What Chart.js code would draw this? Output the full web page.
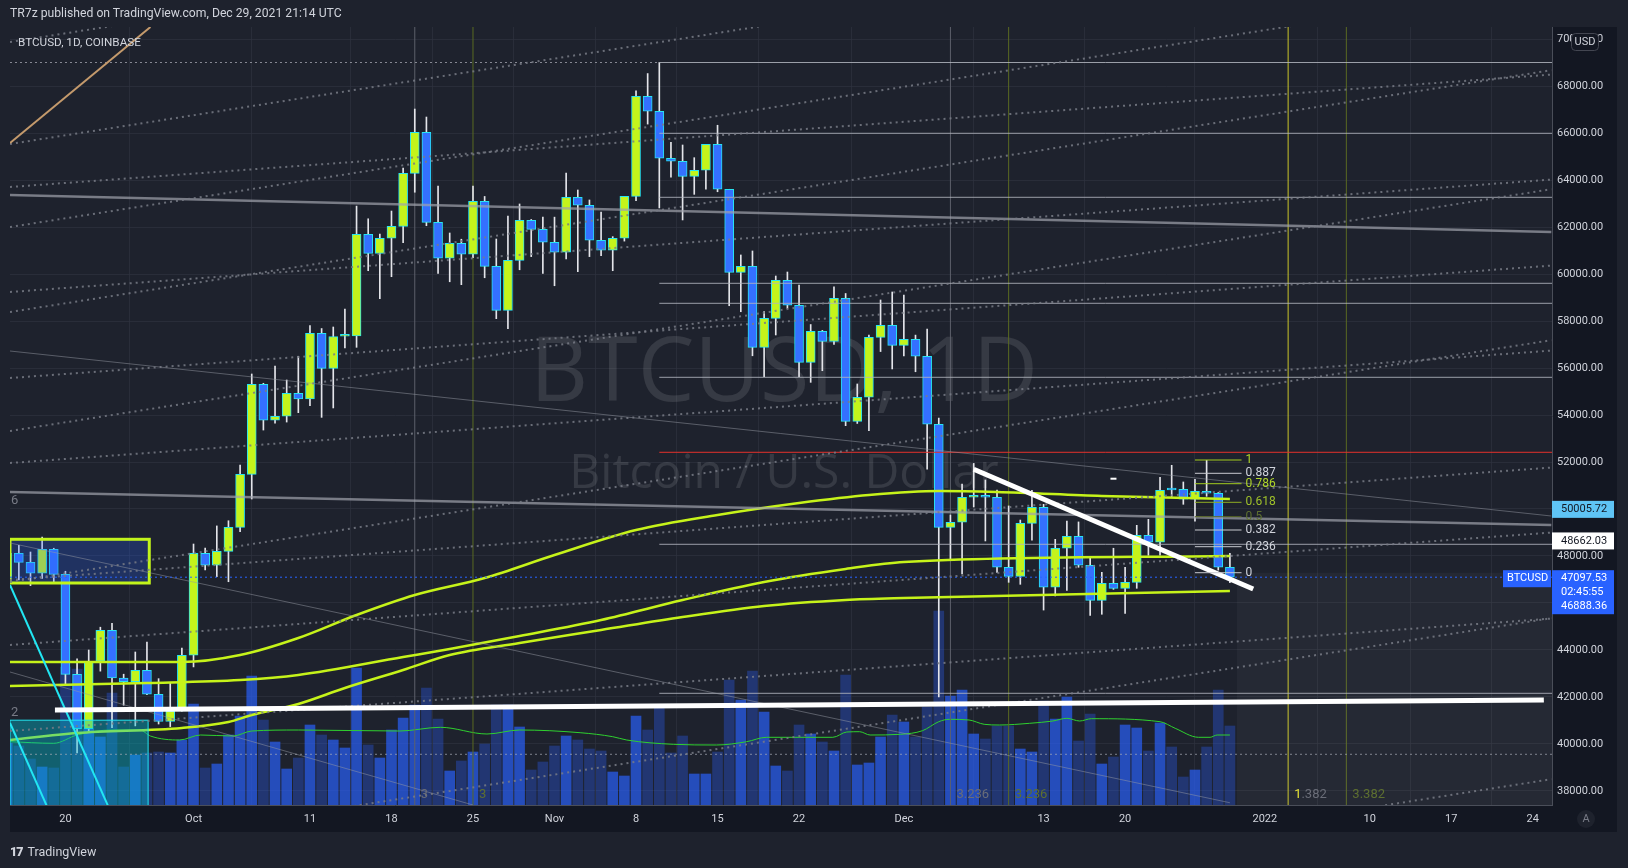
<!DOCTYPE html>
<html>
<head>
<meta charset="utf-8">
<script src="https://cdn.jsdelivr.net/npm/chart.js@4.4.1/dist/chart.umd.min.js"></script>
<style>
  html, body { margin: 0; padding: 0; background: #1e222d; width: 1628px; height: 868px; overflow: hidden; }
  #c { position: absolute; left: 0; top: 0; }
  .hdr { position: absolute; left: 10px; top: 6px; font: 12.2px Roboto, sans-serif; color: #d1d4dc; }
  .sym { position: absolute; left: 18px; top: 35px; font: 11.7px Roboto, sans-serif; color: #d1d4dc; }
  .foot { position: absolute; left: 10px; top: 844px; font: 12.5px Roboto, sans-serif; color: #d1d4dc; }
  .foot b { font-weight: 900; letter-spacing: -1px; margin-right: 5px; }
</style>
</head>
<body>
<canvas id="c" width="1628" height="868"></canvas>
<div class="hdr">TR7z published on TradingView.com, Dec 29, 2021 21:14 UTC</div>
<div class="sym">BTCUSD, 1D, COINBASE</div>
<div class="foot"><b>17</b>TradingView</div>
<script>
// daily candles from 2021-09-15 to 2021-12-29 (day 0 = Sep 20)
const firstDay = -5;
const openP = [47050, 48115, 47730, 47265, 48285, 47220, 42965, 40650, 43520, 44840, 42810, 42650, 43135, 42115, 40965, 41405,
  43775, 48115, 47605, 48200, 49220, 51475, 55305, 53775, 53945, 54925, 54680, 57475, 55985, 57350, 57365, 61690, 60880, 61520, 62030, 64285, 66030, 62200, 60670, 61305, 60840, 63095, 60325, 58455, 60580, 62285, 61900,
  61350, 60925, 63265, 62925, 61435, 61010, 61520, 63305, 67560, 66925, 64925, 64800, 64155, 64415, 65520, 63605, 60070, 60325, 56880, 58115, 59730, 58670, 56240, 57560, 57135, 58965, 53730, 54755, 57305, 57815,
  56965, 57220, 56500, 53605, 49220, 49435, 50500, 50550, 50500, 47520, 47135, 49390, 50070, 46670, 48330, 48840, 47605, 46115, 46840, 46625, 46880, 48880, 48585, 50830, 50840, 50415, 50755, 50670, 47520];
const highP = [48450, 48455, 48170, 48800, 48330, 47350, 43620, 44000, 44970, 45140, 42970, 43915, 44340, 42780, 42600, 44085,
  48510, 48340, 49280, 49500, 51870, 55745, 55350, 56085, 55490, 56500, 57800, 57680, 57745, 58510, 62890, 62350, 61700, 62680, 64510, 67020, 66680, 63745, 61745, 61480, 63745, 63300, 61490, 62470, 62980, 62320, 62425,
  62420, 64300, 63575, 63150, 62640, 61590, 63300, 67800, 68530, 69000, 65600, 65490, 64950, 65520, 66330, 63605, 60810, 60980, 58400, 59915, 60085, 59530, 57850, 57600, 59450, 59170, 55320, 57400, 58895, 59235,
  59105, 57400, 57660, 53870, 49745, 51065, 51940, 51235, 50800, 50130, 49530, 50795, 50200, 48710, 49490, 49450, 47945, 47305, 48330, 47520, 49305, 49560, 51350, 51860, 51150, 51265, 52070, 50700, 48115];
const lowP = [46700, 46980, 46740, 47050, 46850, 42500, 39620, 40550, 43100, 40700, 41650, 40770, 42100, 40850, 40740, 41400,
  43280, 47405, 47120, 46905, 49030, 50425, 53360, 53650, 53700, 54100, 54400, 53900, 54300, 56850, 56880, 60140, 58950, 59885, 61330, 63480, 62055, 60030, 59670, 59545, 60700, 59840, 58100, 57670, 60180, 60740, 60030,
  59500, 60640, 60100, 60740, 60780, 60140, 61400, 63120, 66380, 62810, 64120, 62300, 63390, 63615, 63500, 58650, 58395, 56520, 55630, 57405, 58540, 55630, 55390, 55885, 57000, 53545, 53640, 53330, 56700, 55960,
  56510, 55840, 51700, 42000, 47830, 47235, 50085, 48640, 47300, 46880, 46795, 48670, 45700, 46300, 46540, 47520, 45475, 45520, 46580, 45560, 46625, 48030, 48040, 50500, 50200, 49480, 50540, 47400, 46865];
const closeP = [48115, 47730, 47265, 48285, 47220, 42965, 40650, 43520, 44840, 42810, 42650, 43135, 42115, 40965, 41405, 43775,
  48115, 47605, 48200, 49220, 51475, 55305, 53775, 53945, 54925, 54680, 57475, 55985, 57335, 57365, 61690, 60880, 61520, 62030, 64285, 66030, 62200, 60670, 61305, 60840, 63095, 60325, 58455, 60580, 62285, 61900, 61350,
  60925, 63265, 62925, 61435, 61010, 61520, 63305, 67560, 66925, 64925, 64800, 64155, 64415, 65520, 63605, 60070, 60325, 56880, 58115, 59730, 58670, 56240, 57560, 57135, 58965, 53730, 54755, 57305, 57815, 56965,
  57220, 56500, 53605, 49220, 49435, 50500, 50550, 50500, 47520, 47135, 49390, 50070, 46670, 48330, 48840, 47605, 46115, 46840, 46625, 46880, 48880, 48585, 50795, 50810, 50415, 50755, 50670, 47520, 47100];
const volume = [6200, 5900, 4600, 3800, 3700, 13800, 13600, 7600, 6800, 11200, 3800, 5000, 5200, 5300, 5200, 6500,
  10100, 3700, 4100, 7000, 8900, 12900, 8500, 6300, 3600, 4700, 8000, 7000, 6500, 5700, 13700, 6000, 4700, 7500, 8700, 10000, 11700, 8600, 3400, 4400, 5300, 6100, 10000, 10000, 7800, 3500, 4300,
  5900, 6900, 6500, 5600, 5400, 3300, 2900, 8900, 7500, 10000, 5200, 6900, 3100, 3100, 5300, 12500, 10500, 13400, 9300, 3900, 3400, 8000, 7100, 6300, 5400, 13000, 4000, 4200, 6800, 9000,
  8300, 6800, 9800, 19400, 10900, 11500, 7100, 6600, 7900, 7900, 5600, 5300, 10400, 8600, 10800, 6400, 9100, 4100, 4800, 8000, 7700, 5400, 8200, 5800, 2800, 3500, 5800, 11500, 7900];

// moving averages (day, price)
const maTopDays = [-4.8, 10, 15, 20, 25, 30, 36, 42, 49, 56, 63, 69, 75, 80, 89, 100];
const maTopVals = [43490, 43490, 43787, 44511, 45489, 46340, 47064, 48043, 49106, 49745, 50255, 50596, 50766, 50723, 50553, 50426];
const maMidDays = [-4.8, 7, 15, 20, 29, 33, 39, 46, 53, 60, 67, 72, 100];
const maMidVals = [42468, 42596, 42723, 42936, 43702, 44043, 44596, 45277, 46128, 46894, 47447, 47745, 48000];
const maLowDays = [-4.8, 1, 10, 14, 16, 20, 24, 29, 33, 39, 46, 53, 60, 67, 72, 100];
const maLowVals = [40170, 40468, 40681, 40936, 41234, 41702, 42383, 43149, 43787, 44298, 44851, 45404, 45872, 46128, 46213, 46511];
const volMaDays = [-4.8, -1, 1, 4, 6.4, 7.3, 9.8, 11.6, 14.4, 16, 20, 28.7, 32.2, 36.2, 39, 44.2, 47, 48.2, 52.2, 55.9, 58.5, 60.2, 65.9, 67.1, 68.2, 69.1, 71.7, 73.6, 75, 75.9, 77.6, 78.9, 80.2, 82.8, 84.8, 86, 87.1, 88.1, 94, 95.3, 97.3, 98.3, 98.9, 100];
const volMaVals = [6330, 6170, 7000, 7500, 7500, 6900, 6500, 7000, 6900, 7400, 7500, 7400, 7770, 7100, 7500, 7230, 6830, 6500, 6070, 6000, 6330, 6770, 6770, 7300, 7330, 7000, 7070, 7430, 8330, 8570, 8500, 8070, 8000, 8170, 8400, 8670, 8400, 8630, 8330, 7670, 6770, 6770, 7000, 7000];

// axis ticks
const timeTickDays = [0, 11, 21, 28, 35, 42, 49, 56, 63, 72, 84, 91, 103, 112, 119, 126];
const timeTickLabels = ['20', 'Oct', '11', '18', '25', 'Nov', '8', '15', '22', 'Dec', '13', '20', '2022', '10', '17', '24'];
const priceTicks = [38000, 40000, 42000, 44000, 46000, 48000, 50000, 52000, 54000, 56000, 58000, 60000, 62000, 64000, 66000, 68000, 70000];

// drawings, in (day, price)
const dottedLines = [
  [-4.76, 69872, 127.6, 80161], [-4.76, 65532, 127.6, 75821], [-4.76, 62000, 127.6, 72289], [-4.76, 58383, 127.6, 68672],
  [-4.76, 53319, 127.6, 63608], [-4.76, 46894, 127.6, 57183], [-4.76, 35064, 127.6, 45353], [-4.76, 28213, 127.6, 38502],
  [-4.76, 63702, 127.6, 68486], [-4.76, 59234, 127.6, 64018], [-4.76, 55574, 127.6, 60358], [-4.76, 51957, 127.6, 56741],
  [-4.76, 46979, 127.6, 51763], [-4.76, 44213, 127.6, 48997], [-4.76, 40553, 127.6, 45337]
];
const thickGreyLines = [[-4.76, 63362, 127.6, 61787], [-4.76, 50723, 127.6, 49319]];
const thinGreyLines = [[-4.76, 56723, 127.6, 49702], [-4.76, 48553, 100, 37500], [-4.76, 43064, 35, 37404]];
const cyanLines = [[-4.76, 46766, 3.66, 37362], [-4.76, 40894, -1.6, 37362]];
const tanLines = [[-4.76, 65574, 7.3, 70510]];
const whiteLines = [[-0.9, 41447, 126.96, 41872], [78.0, 51689, 102.0, 46596]];
const levelStart = 51;
const greyLevels = [69000, 65987, 63264, 59604, 58753, 55604, 48498, 42157];
const redLevels = [52413];
const cycleDays = [30, 35, 76, 81, 105, 110];
const cycleLabels = ['3', '3', '3.236', '3.236', '1.382', '3.382'];
const cycleKinds = ['grey', 'olive', 'grey', 'olive', 'yellow', 'olive'];
const fibDays = [97, 101];
const fibPrices = [52085, 51519, 51077, 50285, 49672, 49106, 48396, 47289];
const fibLabels = ['1', '0.887', '0.786', '0.618', '0.5', '0.382', '0.236', '0'];
const fibKinds = ['lime', 'white', 'lime', 'lime2', 'olive', 'white', 'white', 'white'];
const boxes = [
  { d1: -4.76, d2: 7.2, p1: 48711, p2: 46851, fill: 'rgba(41,98,255,0.25)', stroke: '#c2f41b', lw: 3 },
  { d1: -4.76, d2: 7.1, p1: 41013, p2: 37300, fill: 'rgba(0,190,210,0.40)', stroke: '#22e6f2', lw: 1 },
  { d1: 100.6, d2: 127.66, p1: 47289, p2: 37300, fill: 'rgba(255,255,255,0.035)', stroke: null, lw: 0 }
];
const lastPrice = 47097.53;
const gridDotted = 39562;

const X0 = -4.76, X1 = 127.66, Y0 = 37404, Y1 = 70511;
const UP = '#c4f41b', DOWN = '#3470ff', EDGE = '#27e3f2';
const KIND = { grey: '#5d606b', olive: '#5a6a22', yellow: '#c9c42a', lime: '#a3cc1f', lime2: '#8fae22', white: '#c8cad0' };
const KIND_TXT = { grey: '#6a6d78', olive: '#5e7030', yellow: '#d8d52a', lime: '#b0d628', lime2: '#9fc12a', white: '#d1d4dc' };

const days = openP.map((_, i) => i + firstDay);
const isUp = i => closeP[i] >= openP[i];

function seg(l, color, width, extra) {
  return Object.assign({
    type: 'line', data: [{ x: l[0], y: l[1] }, { x: l[2], y: l[3] }],
    borderColor: color, borderWidth: width, pointRadius: 0, fill: false, tension: 0, order: 14
  }, extra || {});
}
function curve(ds, vs, color, width, extra) {
  return Object.assign({
    type: 'line', data: ds.map((d, i) => ({ x: d, y: vs[i] })),
    borderColor: color, borderWidth: width, pointRadius: 0, fill: false,
    cubicInterpolationMode: 'monotone', order: 20
  }, extra || {});
}

const datasets = [];
datasets.push({
  type: 'bar', yAxisID: 'yVol', order: 30, grouped: false, barThickness: 10,
  data: days.map((d, i) => ({ x: d, y: volume[i] })),
  backgroundColor: ctx => isUp(ctx.dataIndex) ? 'rgba(41,98,255,0.68)' : 'rgba(41,98,255,0.33)'
});
datasets.push(curve(volMaDays, volMaVals, '#2fd12f', 1, { yAxisID: 'yVol', order: 29 }));
cycleDays.forEach((d, i) => datasets.push(seg([d, Y0 - 1000, d, Y1 + 1000], KIND[cycleKinds[i]], 1, { order: 28 })));
datasets.push({
  type: 'bar', order: 27, grouped: false, barThickness: 1,
  data: days.map((d, i) => ({ x: d, y: [lowP[i], highP[i]] })),
  backgroundColor: '#e4e5ea'
});
datasets.push({
  type: 'bar', order: 26, grouped: false, barThickness: 9, minBarLength: 2,
  data: days.map((d, i) => ({ x: d, y: [openP[i], closeP[i]] })),
  backgroundColor: ctx => isUp(ctx.dataIndex) ? UP : DOWN,
  borderColor: EDGE, borderWidth: 1, borderSkipped: false
});
datasets.push(curve(maTopDays, maTopVals, '#c6f31a', 2.5, { boxesBefore: true }));
datasets.push(curve(maMidDays, maMidVals, '#c6f31a', 2.5));
datasets.push(curve(maLowDays, maLowVals, '#c6f31a', 2.5));
dottedLines.forEach(l => datasets.push(seg(l, 'rgba(120,123,134,0.85)', 2, { borderDash: [2, 4] })));
datasets.push(seg([X0, 69000, levelStart, 69000], 'rgba(160,163,172,0.8)', 1, { borderDash: [2, 3] }));
datasets.push(seg([X0, gridDotted, X1, gridDotted], 'rgba(170,173,182,0.7)', 1, { borderDash: [2, 3] }));
datasets.push(seg([X0, lastPrice, X1, lastPrice], '#2962ff', 1, { borderDash: [2, 3] }));
thickGreyLines.forEach(l => datasets.push(seg(l, 'rgba(160,163,172,0.7)', 2.5)));
thinGreyLines.forEach(l => datasets.push(seg(l, 'rgba(150,153,163,0.5)', 1)));
greyLevels.forEach(p => datasets.push(seg([levelStart, p, X1, p], 'rgba(178,181,190,0.85)', 1)));
redLevels.forEach(p => datasets.push(seg([levelStart, p, X1, p], '#e5312c', 1)));
cyanLines.forEach(l => datasets.push(seg(l, '#22e6f2', 2, { order: 12 })));
tanLines.forEach(l => datasets.push(seg(l, '#c49a6c', 2, { order: 12 })));
whiteLines.forEach(l => datasets.push(seg(l, '#ffffff', 5, { order: 10 })));
fibPrices.forEach((p, i) => datasets.push(seg([fibDays[0], p, fibDays[1], p], KIND[fibKinds[i]], 1, { order: 9 })));

function drawBoxes(chart) {
  const { ctx, chartArea: a, scales: { x, y } } = chart;
  ctx.save();
  ctx.beginPath(); ctx.rect(a.left, a.top, a.right - a.left, a.bottom - a.top); ctx.clip();
  boxes.forEach(b => {
    const l = x.getPixelForValue(b.d1), r = x.getPixelForValue(b.d2);
    const t = y.getPixelForValue(b.p1), btm = y.getPixelForValue(b.p2);
    ctx.fillStyle = b.fill; ctx.fillRect(l, t, r - l, btm - t);
    if (b.stroke) { ctx.strokeStyle = b.stroke; ctx.lineWidth = b.lw; ctx.strokeRect(l, t, r - l, btm - t); }
  });
  ctx.restore();
}

const drawings = {
  id: 'drawings',
  beforeDraw(chart) {
    const { ctx, chartArea: a } = chart;
    ctx.save();
    ctx.fillStyle = '#1e222d';
    ctx.fillRect(a.left, a.top, a.right - a.left, a.bottom - a.top);
    ctx.fillStyle = '#131722';
    ctx.fillRect(a.right, a.top, 65, a.bottom - a.top + 27);
    ctx.fillRect(a.left, a.bottom, a.right - a.left, 27);
    ctx.restore();
  },
  beforeDatasetsDraw(chart) {
    const { ctx, chartArea: a } = chart;
    const cx = (a.left + a.right) / 2 + 3;
    ctx.save();
    ctx.fillStyle = 'rgba(255,255,255,0.11)';
    ctx.textAlign = 'center'; ctx.textBaseline = 'middle';
    ctx.font = '90px "Open Sans", Roboto, sans-serif';
    ctx.fillText('BTCUSD, 1D', cx, 375);
    ctx.font = '48px "Open Sans", Roboto, sans-serif';
    ctx.fillText('Bitcoin / U.S. Dollar', cx, 474);
    ctx.restore();
  },
  beforeDatasetDraw(chart, args) {
    if (chart.data.datasets[args.index].boxesBefore) drawBoxes(chart);
  },
  afterDatasetsDraw(chart) {
    const { ctx, chartArea: a, scales: { x, y } } = chart;
    ctx.save();
    ctx.beginPath(); ctx.rect(a.left, a.top, a.right - a.left, a.bottom - a.top); ctx.clip();
    ctx.textBaseline = 'middle'; ctx.textAlign = 'left';
    ctx.font = '12px Roboto, sans-serif';
    fibPrices.forEach((p, i) => {
      ctx.fillStyle = KIND_TXT[fibKinds[i]];
      ctx.fillText(fibLabels[i], x.getPixelForValue(fibDays[1]) + 4, y.getPixelForValue(p));
    });
    ctx.font = '13px Roboto, sans-serif';
    cycleDays.forEach((d, i) => {
      const px = x.getPixelForValue(d) + 6;
      ctx.fillStyle = cycleKinds[i] === 'yellow' ? KIND_TXT.grey : KIND_TXT[cycleKinds[i]];
      ctx.fillText(cycleLabels[i], px, 795);
      if (cycleKinds[i] === 'yellow') { ctx.fillStyle = KIND_TXT.yellow; ctx.fillText('1', px, 795); }
    });
    ctx.fillStyle = '#787b86';
    ctx.fillText('6', a.left + 1, 501);
    ctx.fillText('2', a.left + 1, 713);
    ctx.fillStyle = '#ffffff';
    ctx.fillRect(x.getPixelForValue(90) - 3, y.getPixelForValue(51289) - 1, 6, 2);
    ctx.restore();
  },
  afterDraw(chart) {
    const { ctx, chartArea: a, scales: { y } } = chart;
    ctx.save();
    ctx.textBaseline = 'middle'; ctx.textAlign = 'left';
    ctx.font = '11px Roboto, sans-serif';
    const tag = (v, bg, fg) => {
      const py = y.getPixelForValue(v);
      ctx.fillStyle = bg; ctx.fillRect(a.right, py - 8, 62, 17);
      ctx.fillStyle = fg; ctx.fillText(v.toFixed(2), a.right + 9, py + 0.5);
    };
    tag(50005.72, '#5fc4f5', '#131722');
    tag(48662.03, '#ffffff', '#131722');
    const py = y.getPixelForValue(lastPrice);
    ctx.fillStyle = '#2962ff';
    ctx.fillRect(a.right, py - 7, 62, 44);
    ctx.fillRect(a.right - 49, py - 7, 48, 17);
    ctx.fillStyle = '#ffffff';
    ctx.fillText(lastPrice.toFixed(2), a.right + 9, py + 1);
    ctx.fillText('02:45:55', a.right + 9, py + 15);
    ctx.fillText('46888.36', a.right + 9, py + 29);
    ctx.fillText('BTCUSD', a.right - 45, py + 1.5);
    ctx.fillStyle = '#131722';
    ctx.strokeStyle = '#434651'; ctx.lineWidth = 1;
    ctx.beginPath(); ctx.roundRect(1571.5, 33.5, 27, 17, 4); ctx.fill(); ctx.stroke();
    ctx.fillStyle = '#d1d4dc'; ctx.textAlign = 'center';
    ctx.fillText('USD', 1585, 42.5);
    ctx.fillStyle = '#1e222d';
    ctx.beginPath(); ctx.arc(1586, 819, 9, 0, Math.PI * 2); ctx.fill();
    ctx.fillStyle = '#787b86';
    ctx.fillText('A', 1586, 819.5);
    ctx.restore();
  }
};

new Chart(document.getElementById('c'), {
  type: 'bar',
  data: { datasets },
  options: {
    responsive: false, animation: false, devicePixelRatio: 1,
    layout: { padding: { left: 10, top: 27, right: 11, bottom: 38 } },
    plugins: { legend: { display: false }, tooltip: { enabled: false } },
    scales: {
      x: {
        type: 'linear', min: X0, max: X1, offset: false,
        afterBuildTicks: s => { s.ticks = timeTickDays.map(v => ({ value: v })); },
        afterFit: s => { s.height = 25; },
        ticks: { callback: (v, i) => timeTickLabels[i], color: '#d1d4dc', font: { family: 'Roboto', size: 11 }, autoSkip: false, maxRotation: 0, padding: 8 },
        grid: { color: 'rgba(46,50,62,0.7)', drawTicks: false },
        border: { color: '#4a4e59' }
      },
      y: {
        position: 'right', min: Y0, max: Y1,
        afterBuildTicks: s => { s.ticks = priceTicks.map(v => ({ value: v })); },
        afterFit: s => { s.width = 65; },
        ticks: { callback: v => v.toFixed(2), color: '#d1d4dc', font: { family: 'Roboto', size: 11 }, padding: 5 },
        grid: { color: 'rgba(46,50,62,0.7)', drawTicks: false, tickLength: 0 },
        border: { color: '#4a4e59' }
      },
      yVol: { display: false, min: 0, max: 77800 }
    }
  },
  plugins: [drawings]
});
</script>
</body>
</html>
